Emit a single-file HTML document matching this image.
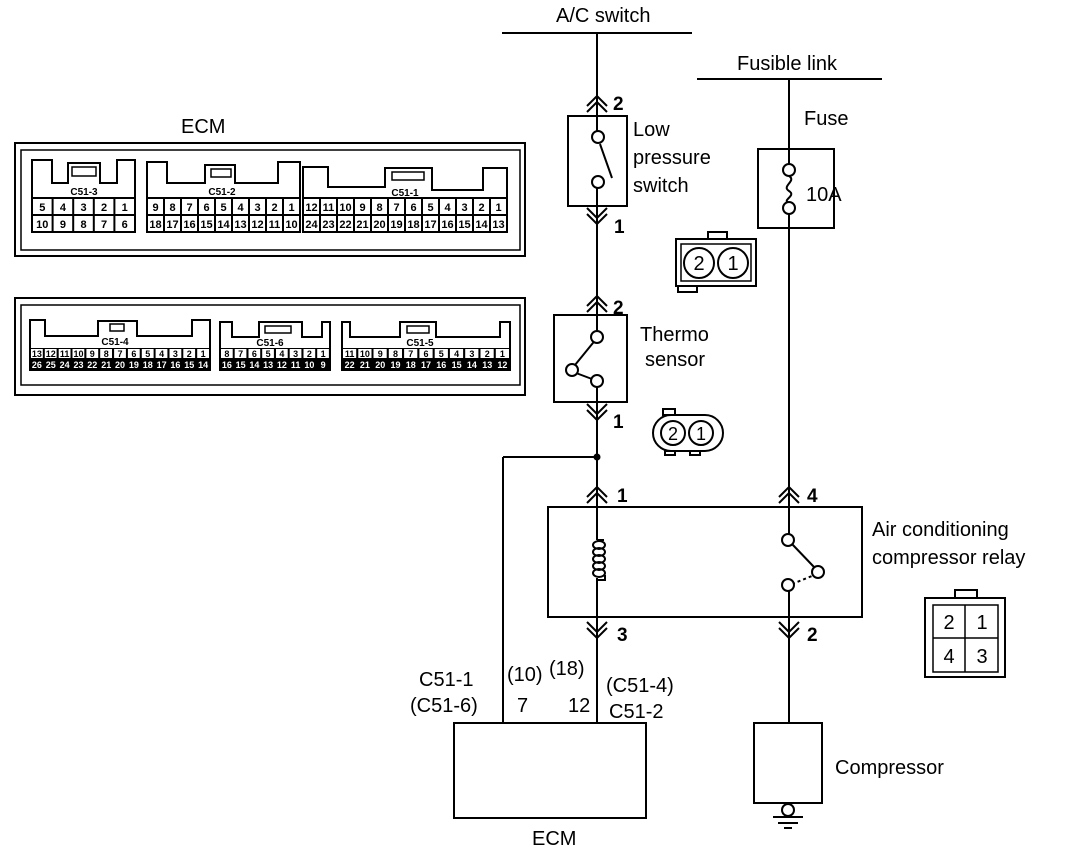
<!DOCTYPE html>
<html><head><meta charset="utf-8"><style>
html,body{margin:0;padding:0;background:#fff;}
svg{display:block;}
text{font-family:"Liberation Sans",Arial,sans-serif;fill:#000;}
.l{font-size:20px;}
.p{font-size:11px;font-weight:bold;text-anchor:middle;}
.q{font-size:9px;font-weight:bold;text-anchor:middle;}
.c{font-size:10px;font-weight:bold;text-anchor:middle;}
</style></head><body>
<svg width="1072" height="854" viewBox="0 0 1072 854" xmlns="http://www.w3.org/2000/svg">
<g fill="none" stroke="#000" stroke-width="2">
<line x1="502" y1="33" x2="692" y2="33"/>
<line x1="697" y1="79" x2="882" y2="79"/>
<line x1="597" y1="33" x2="597" y2="132"/>
<line x1="597" y1="187" x2="597" y2="332"/>
<line x1="597" y1="386" x2="597" y2="540"/>
<line x1="597" y1="578" x2="597" y2="724"/>
<line x1="503" y1="457" x2="597" y2="457"/>
<line x1="503" y1="457" x2="503" y2="724"/>
<line x1="789" y1="79" x2="789" y2="165"/>
<line x1="789" y1="213" x2="789" y2="535"/>
<line x1="789" y1="590" x2="789" y2="724"/>
<rect x="568" y="116" width="59" height="90"/>
<line x1="600" y1="144" x2="612" y2="178"/>
<rect x="554" y="315" width="73" height="87"/>
<line x1="597" y1="338" x2="575" y2="365"/>
<line x1="576" y1="373" x2="592" y2="379"/>
<rect x="758" y="149" width="76" height="79"/>
<path d="M789,176 C797,181 781,186 789,191 C797,196 781,200 789,203"/>
<rect x="548" y="507" width="314" height="110"/>
<path d="M597,540 H604"/>
<ellipse cx="599" cy="545" rx="6" ry="4"/>
<ellipse cx="599" cy="552" rx="6" ry="4"/>
<ellipse cx="599" cy="559" rx="6" ry="4"/>
<ellipse cx="599" cy="566" rx="6" ry="4"/>
<ellipse cx="599" cy="573" rx="6" ry="4"/>
<path d="M605,575 V580 H597"/>
<line x1="792" y1="544" x2="814" y2="567"/>
<line x1="792" y1="584" x2="812" y2="576" stroke-dasharray="3,3"/>
<rect x="454" y="723" width="192" height="95"/>
<rect x="754" y="723" width="68" height="80"/>
<line x1="773" y1="817" x2="803" y2="817"/>
<line x1="778" y1="823" x2="798" y2="823"/>
<line x1="784" y1="828" x2="792" y2="828"/>
<path d="M587,106 L597,96 L607,106 M587,112 L597,102 L607,112"/>
<path d="M587,208 L597,218 L607,208 M587,214 L597,224 L607,214"/>
<path d="M587,306 L597,296 L607,306 M587,312 L597,302 L607,312"/>
<path d="M587,404 L597,414 L607,404 M587,410 L597,420 L607,410"/>
<path d="M587,497 L597,487 L607,497 M587,503 L597,493 L607,503"/>
<path d="M779,497 L789,487 L799,497 M779,503 L789,493 L799,503"/>
<path d="M587,622 L597,632 L607,622 M587,628 L597,638 L607,628"/>
<path d="M779,622 L789,632 L799,622 M779,628 L789,638 L799,628"/>
<rect x="676" y="239" width="80" height="47"/>
<rect x="681" y="244" width="70" height="37" stroke-width="1.5"/>
<rect x="708" y="232" width="19" height="7"/>
<rect x="678" y="286" width="19" height="6"/>
<circle cx="699" cy="263" r="15"/>
<circle cx="733" cy="263" r="15"/>
<rect x="653" y="415" width="70" height="36" rx="18"/>
<circle cx="673" cy="433" r="12"/>
<circle cx="701" cy="433" r="12"/>
<rect x="663" y="409" width="12" height="6"/>
<rect x="665" y="451" width="10" height="4"/>
<rect x="690" y="451" width="10" height="4"/>
<rect x="925" y="598" width="80" height="79"/>
<rect x="933" y="605" width="65" height="67" stroke-width="1.5"/>
<line x1="965" y1="605" x2="965" y2="672" stroke-width="1.5"/>
<line x1="933" y1="638" x2="998" y2="638" stroke-width="1.5"/>
<rect x="955" y="590" width="22" height="8"/>
</g>
<g fill="#fff" stroke="#000" stroke-width="2">
<circle cx="598" cy="137" r="6"/><circle cx="598" cy="182" r="6"/>
<circle cx="597" cy="337" r="6"/><circle cx="572" cy="370" r="6"/><circle cx="597" cy="381" r="6"/>
<circle cx="789" cy="170" r="6"/><circle cx="789" cy="208" r="6"/>
<circle cx="788" cy="540" r="6"/><circle cx="818" cy="572" r="6"/><circle cx="788" cy="585" r="6"/>
<circle cx="788" cy="810" r="6"/>
</g>
<circle cx="597" cy="457" r="3.5" fill="#000"/>

<text class="l" x="556" y="22">A/C switch</text>
<text class="l" x="737" y="70">Fusible link</text>
<text class="l" x="804" y="125">Fuse</text>
<text class="l" x="806" y="201">10A</text>
<text class="l" x="633" y="136">Low</text>
<text class="l" x="633" y="164">pressure</text>
<text class="l" x="633" y="192">switch</text>
<text class="l" x="640" y="341">Thermo</text>
<text class="l" x="645" y="366">sensor</text>
<text class="l" x="872" y="536">Air conditioning</text>
<text class="l" x="872" y="564">compressor relay</text>
<text class="l" x="835" y="774">Compressor</text>
<text class="l" x="532" y="845">ECM</text>
<text class="l" x="181" y="133">ECM</text>
<g style="font-size:19px;font-weight:bold">
<text x="613" y="110">2</text><text x="614" y="233">1</text>
<text x="613" y="314">2</text><text x="613" y="428">1</text>
<text x="617" y="502">1</text><text x="807" y="502">4</text>
<text x="617" y="641">3</text><text x="807" y="641">2</text>
</g>
<g style="font-size:20px;text-anchor:middle">
<text x="699" y="270">2</text><text x="733" y="270">1</text>
<text x="673" y="440" style="font-size:18px">2</text><text x="701" y="440" style="font-size:18px">1</text>
<text x="949" y="629">2</text><text x="982" y="629">1</text>
<text x="949" y="663">4</text><text x="982" y="663">3</text>
</g>
<text class="l" x="419" y="686">C51-1</text>
<text class="l" x="410" y="712">(C51-6)</text>
<text class="l" x="507" y="681">(10)</text>
<text class="l" x="549" y="675">(18)</text>
<text class="l" x="517" y="712">7</text>
<text class="l" x="568" y="712">12</text>
<text class="l" x="606" y="692">(C51-4)</text>
<text class="l" x="609" y="718">C51-2</text>

<g fill="none" stroke="#000" stroke-width="2">
<rect x="15" y="143" width="510" height="113"/>
<rect x="21" y="150" width="499" height="100" stroke-width="1.5"/>
<path d="M32,232 V160 H52 V183 H68 V163 H100 V183 H117 V160 H135 V232 Z"/>
<rect x="72" y="167" width="24" height="9" stroke-width="1.5"/>
<path d="M147,232 V162 H167 V183 H205 V165 H235 V183 H278 V162 H300 V232 Z"/>
<rect x="211" y="169" width="20" height="8" stroke-width="1.5"/>
<path d="M303,232 V167 H328 V187 H385 V168 H432 V190 H483 V168 H507 V232 Z"/>
<rect x="392" y="172" width="32" height="8" stroke-width="1.5"/>
<path d="M32,198 H135 M32,215 H135 M52.6,198 V232 M73.2,198 V232 M93.8,198 V232 M114.4,198 V232"/>
<path d="M147,198 H300 M147,215 H300 M164,198V232 M181,198V232 M198,198V232 M215,198V232 M232,198V232 M249,198V232 M266,198V232 M283,198V232"/>
<path d="M303,198 H507 M303,215 H507 M320,198V232 M337,198V232 M354,198V232 M371,198V232 M388,198V232 M405,198V232 M422,198V232 M439,198V232 M456,198V232 M473,198V232 M490,198V232"/>
</g>
<text class="c" x="84" y="195">C51-3</text>
<text class="c" x="222" y="195">C51-2</text>
<text class="c" x="405" y="196">C51-1</text>
<g>
<text class="p" x="42.3" y="211">5</text><text class="p" x="62.9" y="211">4</text><text class="p" x="83.5" y="211">3</text><text class="p" x="104.1" y="211">2</text><text class="p" x="124.7" y="211">1</text>
<text class="p" x="42.3" y="228">10</text><text class="p" x="62.9" y="228">9</text><text class="p" x="83.5" y="228">8</text><text class="p" x="104.1" y="228">7</text><text class="p" x="124.7" y="228">6</text>
<text class="p" x="155.5" y="211">9</text><text class="p" x="172.5" y="211">8</text><text class="p" x="189.5" y="211">7</text><text class="p" x="206.5" y="211">6</text><text class="p" x="223.5" y="211">5</text><text class="p" x="240.5" y="211">4</text><text class="p" x="257.5" y="211">3</text><text class="p" x="274.5" y="211">2</text><text class="p" x="291.5" y="211">1</text>
<text class="p" x="155.5" y="228">18</text><text class="p" x="172.5" y="228">17</text><text class="p" x="189.5" y="228">16</text><text class="p" x="206.5" y="228">15</text><text class="p" x="223.5" y="228">14</text><text class="p" x="240.5" y="228">13</text><text class="p" x="257.5" y="228">12</text><text class="p" x="274.5" y="228">11</text><text class="p" x="291.5" y="228">10</text>
<text class="p" x="311.5" y="211">12</text><text class="p" x="328.5" y="211">11</text><text class="p" x="345.5" y="211">10</text><text class="p" x="362.5" y="211">9</text><text class="p" x="379.5" y="211">8</text><text class="p" x="396.5" y="211">7</text><text class="p" x="413.5" y="211">6</text><text class="p" x="430.5" y="211">5</text><text class="p" x="447.5" y="211">4</text><text class="p" x="464.5" y="211">3</text><text class="p" x="481.5" y="211">2</text><text class="p" x="498.5" y="211">1</text>
<text class="p" x="311.5" y="228">24</text><text class="p" x="328.5" y="228">23</text><text class="p" x="345.5" y="228">22</text><text class="p" x="362.5" y="228">21</text><text class="p" x="379.5" y="228">20</text><text class="p" x="396.5" y="228">19</text><text class="p" x="413.5" y="228">18</text><text class="p" x="430.5" y="228">17</text><text class="p" x="447.5" y="228">16</text><text class="p" x="464.5" y="228">15</text><text class="p" x="481.5" y="228">14</text><text class="p" x="498.5" y="228">13</text>
</g>

<g fill="none" stroke="#000" stroke-width="2">
<rect x="15" y="298" width="510" height="97"/>
<rect x="21" y="305" width="499" height="80" stroke-width="1.5"/>
<path d="M30,370 V320 H45 V336 H98 V321 H137 V336 H192 V320 H210 V370 Z"/>
<rect x="110" y="324" width="14" height="7" stroke-width="1.5"/>
<path d="M220,370 V322 H232 V337 H259 V322 H302 V337 H322 V322 H330 V370 Z"/>
<rect x="265" y="326" width="26" height="7" stroke-width="1.5"/>
<path d="M342,370 V322 H350 V337 H400 V322 H436 V337 H500 V322 H510 V370 Z"/>
<rect x="407" y="326" width="22" height="7" stroke-width="1.5"/>
</g>
<rect x="30" y="348" width="180" height="22" fill="#000"/>
<rect x="220" y="348" width="110" height="22" fill="#000"/>
<rect x="342" y="348" width="168" height="22" fill="#000"/>
<g fill="#fff">
<rect x="31" y="349" width="11.8" height="9"/><rect x="44.8" y="349" width="11.8" height="9"/><rect x="58.7" y="349" width="11.8" height="9"/><rect x="72.5" y="349" width="11.8" height="9"/><rect x="86.4" y="349" width="11.8" height="9"/><rect x="100.2" y="349" width="11.8" height="9"/><rect x="114.1" y="349" width="11.8" height="9"/><rect x="127.9" y="349" width="11.8" height="9"/><rect x="141.8" y="349" width="11.8" height="9"/><rect x="155.6" y="349" width="11.8" height="9"/><rect x="169.5" y="349" width="11.8" height="9"/><rect x="183.3" y="349" width="11.8" height="9"/><rect x="197.2" y="349" width="11.8" height="9"/>
<rect x="221" y="349" width="11.7" height="9"/><rect x="234.7" y="349" width="11.7" height="9"/><rect x="248.5" y="349" width="11.7" height="9"/><rect x="262.2" y="349" width="11.7" height="9"/><rect x="276" y="349" width="11.7" height="9"/><rect x="289.7" y="349" width="11.7" height="9"/><rect x="303.5" y="349" width="11.7" height="9"/><rect x="317.2" y="349" width="11.7" height="9"/>
<rect x="343" y="349" width="13.2" height="9"/><rect x="358.3" y="349" width="13.2" height="9"/><rect x="373.5" y="349" width="13.2" height="9"/><rect x="388.8" y="349" width="13.2" height="9"/><rect x="404.1" y="349" width="13.2" height="9"/><rect x="419.4" y="349" width="13.2" height="9"/><rect x="434.7" y="349" width="13.2" height="9"/><rect x="449.9" y="349" width="13.2" height="9"/><rect x="465.2" y="349" width="13.2" height="9"/><rect x="480.5" y="349" width="13.2" height="9"/><rect x="495.8" y="349" width="13.2" height="9"/>
</g>
<text class="c" x="115" y="345">C51-4</text>
<text class="c" x="270" y="346">C51-6</text>
<text class="c" x="420" y="346">C51-5</text>
<g>
<text class="q" x="36.9" y="357">13</text><text class="q" x="50.8" y="357">12</text><text class="q" x="64.6" y="357">11</text><text class="q" x="78.5" y="357">10</text><text class="q" x="92.3" y="357">9</text><text class="q" x="106.2" y="357">8</text><text class="q" x="120" y="357">7</text><text class="q" x="133.9" y="357">6</text><text class="q" x="147.7" y="357">5</text><text class="q" x="161.6" y="357">4</text><text class="q" x="175.4" y="357">3</text><text class="q" x="189.3" y="357">2</text><text class="q" x="203.1" y="357">1</text>
<text class="q" x="226.9" y="357">8</text><text class="q" x="240.6" y="357">7</text><text class="q" x="254.4" y="357">6</text><text class="q" x="268.1" y="357">5</text><text class="q" x="281.9" y="357">4</text><text class="q" x="295.6" y="357">3</text><text class="q" x="309.4" y="357">2</text><text class="q" x="323.1" y="357">1</text>
<text class="q" x="349.6" y="357">11</text><text class="q" x="364.9" y="357">10</text><text class="q" x="380.2" y="357">9</text><text class="q" x="395.5" y="357">8</text><text class="q" x="410.8" y="357">7</text><text class="q" x="426" y="357">6</text><text class="q" x="441.3" y="357">5</text><text class="q" x="456.6" y="357">4</text><text class="q" x="471.9" y="357">3</text><text class="q" x="487.2" y="357">2</text><text class="q" x="502.4" y="357">1</text>
</g>
<g>
<text class="q" style="fill:#fff" x="36.9" y="368">26</text><text class="q" style="fill:#fff" x="50.8" y="368">25</text><text class="q" style="fill:#fff" x="64.6" y="368">24</text><text class="q" style="fill:#fff" x="78.5" y="368">23</text><text class="q" style="fill:#fff" x="92.3" y="368">22</text><text class="q" style="fill:#fff" x="106.2" y="368">21</text><text class="q" style="fill:#fff" x="120" y="368">20</text><text class="q" style="fill:#fff" x="133.9" y="368">19</text><text class="q" style="fill:#fff" x="147.7" y="368">18</text><text class="q" style="fill:#fff" x="161.6" y="368">17</text><text class="q" style="fill:#fff" x="175.4" y="368">16</text><text class="q" style="fill:#fff" x="189.3" y="368">15</text><text class="q" style="fill:#fff" x="203.1" y="368">14</text>
<text class="q" style="fill:#fff" x="226.9" y="368">16</text><text class="q" style="fill:#fff" x="240.6" y="368">15</text><text class="q" style="fill:#fff" x="254.4" y="368">14</text><text class="q" style="fill:#fff" x="268.1" y="368">13</text><text class="q" style="fill:#fff" x="281.9" y="368">12</text><text class="q" style="fill:#fff" x="295.6" y="368">11</text><text class="q" style="fill:#fff" x="309.4" y="368">10</text><text class="q" style="fill:#fff" x="323.1" y="368">9</text>
<text class="q" style="fill:#fff" x="349.6" y="368">22</text><text class="q" style="fill:#fff" x="364.9" y="368">21</text><text class="q" style="fill:#fff" x="380.2" y="368">20</text><text class="q" style="fill:#fff" x="395.5" y="368">19</text><text class="q" style="fill:#fff" x="410.8" y="368">18</text><text class="q" style="fill:#fff" x="426" y="368">17</text><text class="q" style="fill:#fff" x="441.3" y="368">16</text><text class="q" style="fill:#fff" x="456.6" y="368">15</text><text class="q" style="fill:#fff" x="471.9" y="368">14</text><text class="q" style="fill:#fff" x="487.2" y="368">13</text><text class="q" style="fill:#fff" x="502.4" y="368">12</text>
</g>
</svg>
</body></html>
